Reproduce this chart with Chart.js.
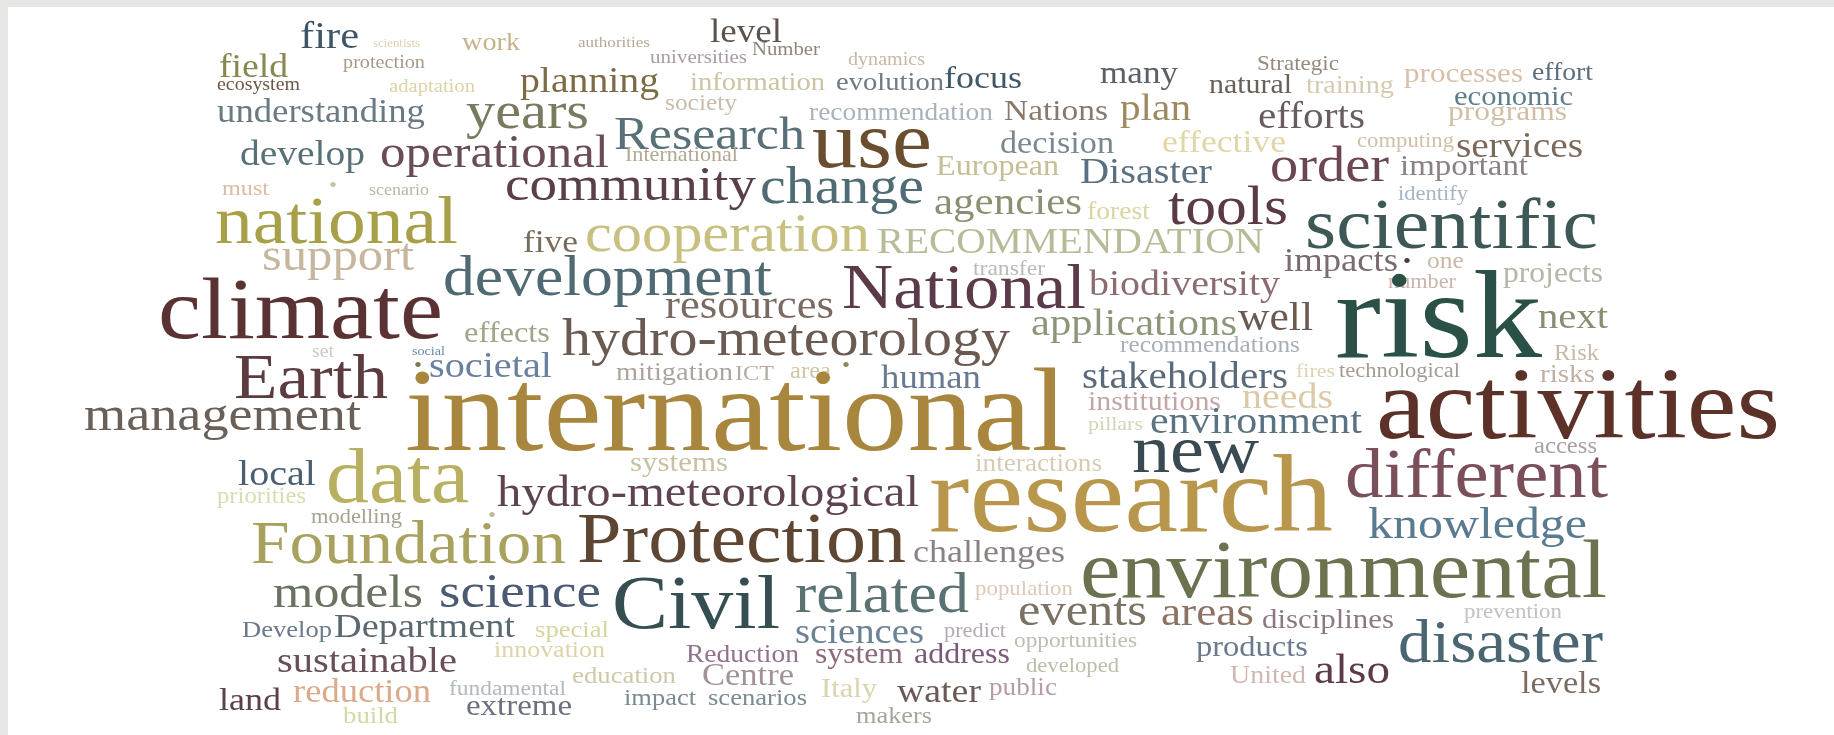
<!DOCTYPE html>
<html>
<head>
<meta charset="utf-8">
<script src="https://cdn.jsdelivr.net/npm/chart.js@4.4.0/dist/chart.umd.min.js"></script>
<style>
  html, body { margin: 0; padding: 0; background: #e6e7e5; }
  canvas { display: block; }
</style>
</head>
<body>
<canvas id="myChart" width="1834" height="735"></canvas>
<script>
// word list (left edge, right edge, baseline)
var words = [
  "fire", "scientists", "protection", "work", "authorities", "level", "universities", "Number", "dynamics", "field",
  "ecosystem", "adaptation", "planning", "information", "evolution", "focus", "many", "natural", "Strategic", "training",
  "processes", "effort", "economic", "programs", "understanding", "years", "society", "recommendation", "Nations", "plan",
  "efforts", "Research", "International", "use", "decision", "effective", "computing", "services", "develop", "operational",
  "order", "important", "must", "•", "scenario", "community", "change", "European", "Disaster", "identify",
  "national", "agencies", "forest", "tools", "scientific", "five", "cooperation", "RECOMMENDATION", "support", "development",
  "transfer", "National", "biodiversity", "impacts", "•", "one", "number", "projects", "climate", "resources",
  "applications", "well", "risk", "next", "effects", "hydro-meteorology", "set", "social", "recommendations", "Risk",
  "Earth", "•", "societal", "mitigation", "ICT", "area", "•", "human", "stakeholders", "fires",
  "technological", "risks", "management", "international", "institutions", "needs", "pillars", "environment", "activities", "new",
  "access", "local", "data", "systems", "interactions", "research", "different", "priorities", "hydro-meteorological", "modelling",
  "•", "Foundation", "Protection", "knowledge", "challenges", "environmental", "models", "science", "Civil", "related",
  "population", "Develop", "Department", "special", "events", "areas", "disciplines", "sciences", "predict", "prevention",
  "innovation", "Reduction", "system", "address", "opportunities", "developed", "products", "disaster", "sustainable", "education",
  "Centre", "Italy", "water", "public", "United", "also", "levels", "land", "reduction", "fundamental",
  "extreme", "build", "impact", "scenarios", "makers"
];

var xStart = [
  300, 373, 343, 462, 578, 710, 650, 752, 848, 219,
  217, 389, 520, 690, 836, 944, 1100, 1209, 1257, 1306,
  1404, 1532, 1454, 1448, 217, 466, 665, 809, 1004, 1120,
  1258, 614, 625, 812, 1000, 1162, 1357, 1456, 240, 380,
  1270, 1400, 222, 329, 369, 505, 760, 936, 1080, 1398,
  215, 934, 1087, 1168, 1305, 523, 585, 877, 262, 443,
  973, 842, 1089, 1284, 1403, 1427, 1388, 1503, 158, 665,
  1031, 1238, 1335, 1538, 464, 562, 312, 412, 1120, 1554,
  234, 414, 429, 616, 735, 790, 842, 881, 1082, 1296,
  1339, 1540, 84, 405, 1088, 1242, 1088, 1150, 1376, 1132,
  1534, 238, 326, 630, 975, 929, 1345, 217, 497, 311,
  488, 251, 577, 1368, 913, 1080, 273, 439, 612, 795,
  975, 242, 334, 535, 1018, 1161, 1262, 795, 944, 1464,
  494, 686, 815, 914, 1014, 1026, 1196, 1398, 277, 572,
  702, 821, 897, 989, 1230, 1314, 1521, 219, 293, 449,
  466, 343, 624, 708, 856
];

var xEnd = [
  359, 420, 425, 520, 650, 782, 747, 820, 925, 288,
  300, 475, 659, 825, 944, 1022, 1178, 1292, 1339, 1394,
  1523, 1593, 1573, 1567, 425, 589, 737, 993, 1108, 1191,
  1365, 805, 738, 932, 1114, 1286, 1454, 1583, 365, 609,
  1389, 1528, 269, 337, 429, 756, 924, 1059, 1212, 1468,
  458, 1082, 1150, 1288, 1598, 578, 870, 1264, 414, 772,
  1045, 1086, 1280, 1398, 1411, 1464, 1456, 1603, 443, 834,
  1237, 1313, 1542, 1608, 550, 1010, 334, 445, 1300, 1599,
  388, 422, 552, 733, 774, 831, 850, 981, 1288, 1335,
  1460, 1595, 361, 1068, 1221, 1333, 1143, 1362, 1780, 1259,
  1597, 316, 469, 728, 1102, 1333, 1608, 306, 919, 402,
  496, 566, 906, 1587, 1065, 1607, 423, 601, 780, 969,
  1073, 332, 515, 609, 1147, 1254, 1394, 924, 1006, 1562,
  605, 799, 903, 1010, 1137, 1119, 1308, 1603, 457, 676,
  794, 877, 981, 1057, 1306, 1390, 1601, 281, 431, 566,
  572, 398, 696, 807, 932
];

var yBase = [
  48, 47, 68, 50, 47, 42, 63, 55, 65, 77,
  90, 92, 92, 90, 90, 88, 83, 93, 70, 93,
  82, 80, 105, 120, 122, 128, 110, 120, 120, 120,
  128, 149, 161, 167, 153, 152, 147, 157, 165, 167,
  181, 175, 195, 192, 195, 200, 203, 175, 183, 200,
  243, 214, 219, 224, 248, 252, 251, 253, 270, 295,
  275, 308, 295, 271, 268, 268, 288, 282, 338, 318,
  335, 330, 357, 328, 342, 355, 357, 355, 352, 360,
  398, 372, 377, 380, 380, 378, 372, 388, 388, 377,
  377, 382, 430, 450, 410, 408, 430, 433, 438, 472,
  453, 485, 502, 471, 471, 531, 497, 503, 506, 523,
  522, 563, 562, 538, 562, 597, 607, 607, 628, 612,
  595, 637, 637, 637, 625, 625, 628, 643, 637, 618,
  657, 662, 663, 663, 647, 672, 656, 662, 672, 683,
  685, 697, 702, 695, 683, 683, 693, 710, 702, 695,
  715, 723, 705, 705, 723
];

var colors = [
  "#3d5567", "#ddd0b2", "#a8998a", "#c6b38b", "#b6a892", "#5c524c", "#a99ba7", "#908678", "#c9b9a2", "#8a8850",
  "#6c5646", "#dcd2a4", "#7c6b44", "#cdc3a2", "#6c7b84", "#3e5868", "#5a6068", "#6a6058", "#948a7e", "#d6cab0",
  "#d8c0a8", "#5b6e80", "#5f7e8c", "#d2bea6", "#6a7a84", "#7a7a60", "#cabca8", "#a9b2ba", "#8a786a", "#9e8a60",
  "#6a5a62", "#587078", "#b0a890", "#6b4e30", "#7a8892", "#e0d6a6", "#d0c2a8", "#7a6a5c", "#587078", "#6a4c54",
  "#6c4652", "#8a8282", "#dcbca4", "#c8c0a0", "#b2baa2", "#5a3e4a", "#4f6c74", "#c6be96", "#587080", "#a8b4c4",
  "#a8a048", "#8a9072", "#dcd4a2", "#5a3a44", "#3e5858", "#7a6a5a", "#c8c080", "#b8ba98", "#c6b69e", "#4f6a72",
  "#b8bcb4", "#5b3a4a", "#8c6c6e", "#7a6a72", "#4a3a3a", "#c8b8a8", "#c8b4ac", "#b8b4a8", "#5b3234", "#7a6a62",
  "#8c9678", "#6a5a52", "#2a5048", "#8c8c72", "#9ea688", "#6a5a52", "#d0c8c0", "#6a88a8", "#a6b0b8", "#c8b8a8",
  "#5c3c3e", "#7a7a50", "#6a80a0", "#aca49c", "#b4aca4", "#d0c8a0", "#8a8a50", "#687a92", "#5a6a7a", "#dcd4b4",
  "#a49c94", "#c0b0a4", "#6a6058", "#a8863e", "#c2a6a6", "#dccaa6", "#d4d4b8", "#5a7282", "#5c3228", "#3a4a52",
  "#a8a0a2", "#4a6070", "#b8b060", "#c8c0a2", "#d4ccb4", "#b8964c", "#7a4f5a", "#d8dcb0", "#5e4452", "#a8a090",
  "#c0b890", "#a8a25e", "#5e4632", "#5a7a90", "#8a8282", "#6a7250", "#6a7262", "#4a5a72", "#344e52", "#5a7274",
  "#e0c8b8", "#6a7a8a", "#5a6870", "#d8d4a0", "#7a7262", "#8c7262", "#8c7884", "#6a8292", "#b4acb4", "#c8c0c0",
  "#dcd4a8", "#92728a", "#8a6a7c", "#7a5a7a", "#b8c0b0", "#b8c0a8", "#6a7a8c", "#4a6672", "#6a4e5a", "#cfc8a8",
  "#a29296", "#dcd4b0", "#6a5a54", "#b89aac", "#d0b8b0", "#5c3a4a", "#7a6a62", "#5a4048", "#dcaa88", "#b0b8c0",
  "#6a7280", "#d4d8a4", "#7a8a92", "#7a8a92", "#a8a49c"
];

var FONT = "'Liberation Serif', 'DejaVu Serif', serif";
var squeeze = 0.9; // the source face is wider than Liberation Serif

document.addEventListener("DOMContentLoaded", function () {
  var ctx = document.getElementById("myChart").getContext("2d");

  var points = words.map(function (w, i) {
    return { x: (xStart[i] + xEnd[i]) / 2, y: yBase[i] };
  });

  var backdrop = {
    id: "backdrop",
    beforeDraw: function (chart) {
      var c = chart.ctx;
      c.save();
      c.fillStyle = "#e6e7e5";
      c.fillRect(0, 0, chart.width, chart.height);
      c.fillStyle = "#ffffff";
      c.fillRect(8, 7, chart.width - 8, chart.height - 7);
      c.restore();
    }
  };

  var wordLabels = {
    id: "wordLabels",
    afterDatasetsDraw: function (chart) {
      var c = chart.ctx;
      var xs = chart.scales.x;
      var meta = chart.getDatasetMeta(0);
      c.save();
      c.textAlign = "center";
      c.textBaseline = "alphabetic";
      c.filter = "blur(0.6px)"; // the source picture is soft
      meta.data.forEach(function (pt, i) {
        var w = xs.getPixelForValue(xEnd[i]) - xs.getPixelForValue(xStart[i]);
        c.font = "100px " + FONT;
        var w100 = c.measureText(words[i]).width;
        var size = (w / w100) * 100 * squeeze;
        c.font = size.toFixed(2) + "px " + FONT;
        c.fillStyle = colors[i];
        c.save();
        c.translate(pt.x, pt.y);
        c.scale(1 / squeeze, 1);
        c.fillText(words[i], 0, 0);
        c.restore();
      });
      c.restore();
    }
  };

  new Chart(ctx, {
    type: "scatter",
    data: {
      datasets: [
        {
          label: "words",
          data: points,
          pointRadius: 0,
          pointHoverRadius: 0
        }
      ]
    },
    options: {
      responsive: false,
      animation: false,
      events: [],
      layout: { padding: 0 },
      plugins: {
        legend: { display: false },
        tooltip: { enabled: false }
      },
      scales: {
        x: { type: "linear", min: 0, max: 1834, display: false },
        y: { type: "linear", min: 0, max: 735, reverse: true, display: false }
      }
    },
    plugins: [backdrop, wordLabels]
  });
});
</script>
</body>
</html>
